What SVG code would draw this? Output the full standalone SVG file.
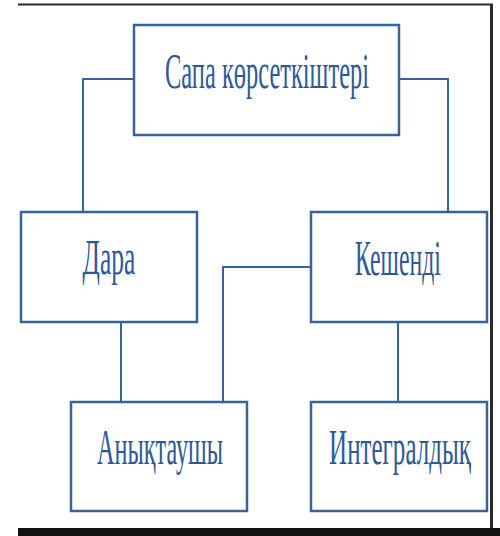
<svg xmlns="http://www.w3.org/2000/svg" width="500" height="536" viewBox="0 0 500 536">
<style>
.box{fill:#fff;stroke:#3563A0;stroke-width:2.5}
.lbl{font-family:"Liberation Serif","Times New Roman",serif;font-size:51px;fill:#2D5A97;text-anchor:middle}
.con{fill:none;stroke:#3563A0;stroke-width:2}
</style>
<rect width="500" height="536" fill="#fff"/>
<g id="frame">
<line x1="18" y1="4.5" x2="493" y2="4.5" stroke="#2a2a2a" stroke-width="2"/>
<line x1="491.5" y1="4" x2="491.5" y2="528" stroke="#2a2a2a" stroke-width="3"/>
<rect x="18" y="528" width="482" height="8" fill="#111"/>
</g>
<g id="connectors">
<path class="con" d="M134,79 H83 V212"/>
<path class="con" d="M399,79 H448 V212"/>
<path class="con" d="M121,322 V402"/>
<path class="con" d="M311,267 H223 V402"/>
<path class="con" d="M398,322 V402"/>
</g>
<g id="node-sapa">
<rect class="box" x="134" y="25" width="265" height="110"/>
<text class="lbl" transform="translate(267,88) scale(0.55,1)" x="0" y="0" textLength="371" lengthAdjust="spacingAndGlyphs">Сапа көрсеткіштері</text>
</g>
<g id="node-dara">
<rect class="box" x="21" y="212" width="176" height="110"/>
<text class="lbl" transform="translate(109,274) scale(0.55,1)" x="0" y="0" textLength="96" lengthAdjust="spacingAndGlyphs">Дара</text>
</g>
<g id="node-keshendi">
<rect class="box" x="311" y="212" width="176" height="110"/>
<text class="lbl" transform="translate(398,275) scale(0.55,1)" x="0" y="0" textLength="156" lengthAdjust="spacingAndGlyphs">Кешенді</text>
</g>
<g id="node-anyqtaushy">
<rect class="box" x="71" y="402" width="176" height="109"/>
<text class="lbl" transform="translate(160,464) scale(0.55,1)" x="0" y="0" textLength="229" lengthAdjust="spacingAndGlyphs">Анықтаушы</text>
</g>
<g id="node-integraldyq">
<rect class="box" x="311" y="402" width="176" height="109"/>
<text class="lbl" transform="translate(400,464) scale(0.55,1)" x="0" y="0" textLength="258" lengthAdjust="spacingAndGlyphs">Интегралдық</text>
</g>
</svg>
